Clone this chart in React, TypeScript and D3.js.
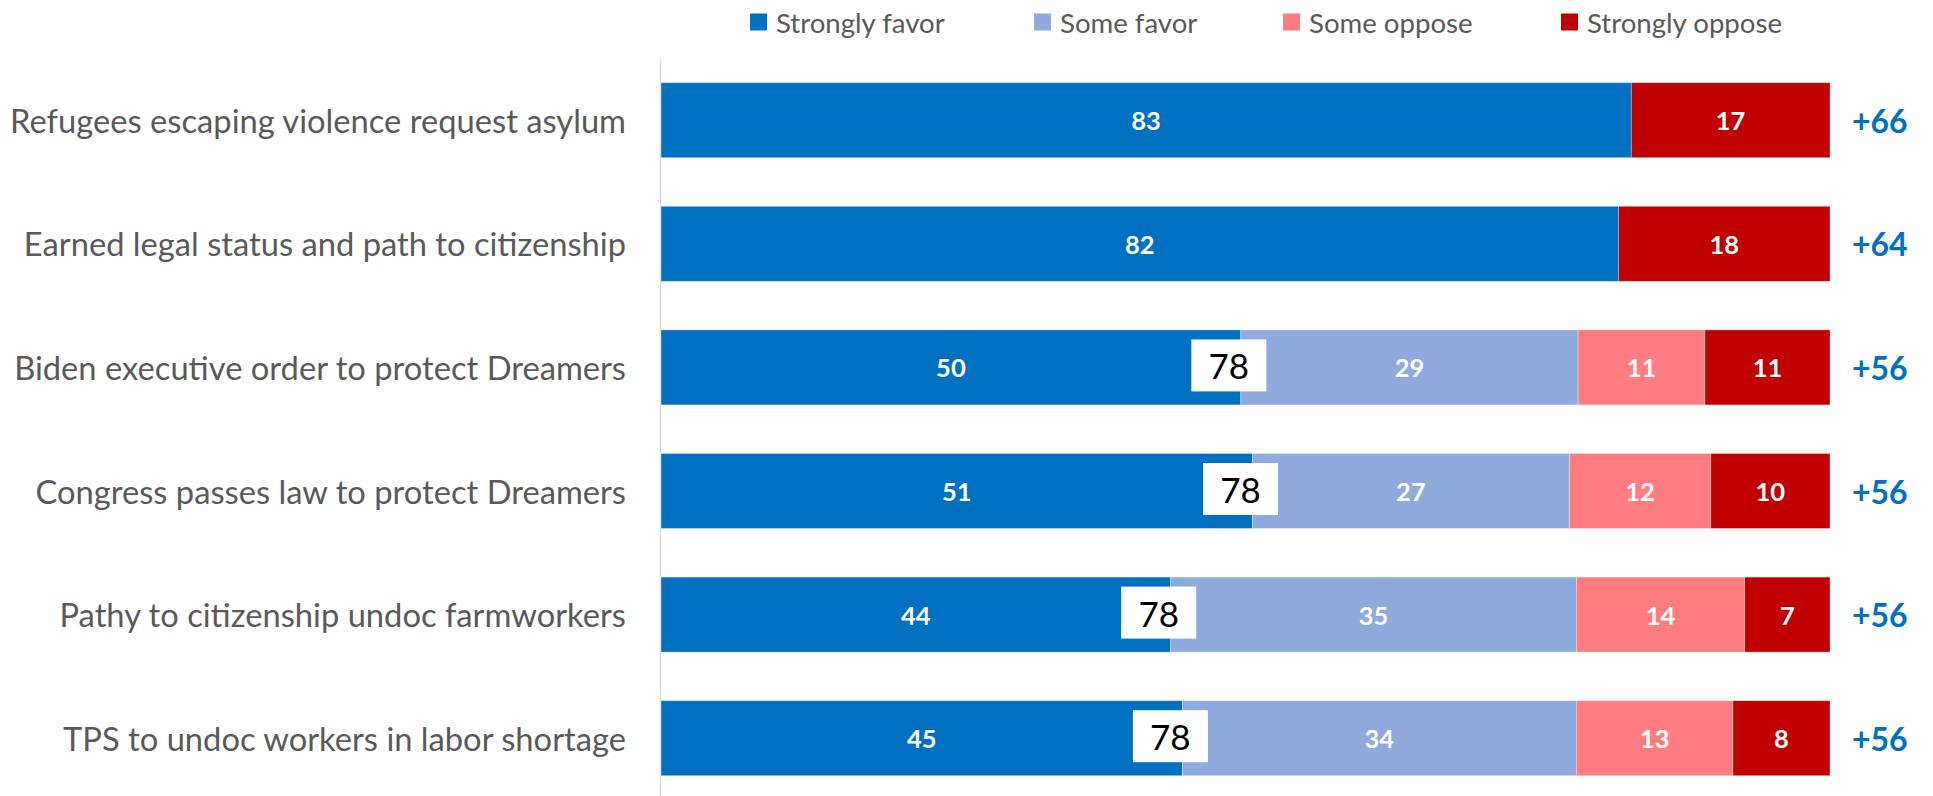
import React from "react";
import * as d3 from "d3";

const categories = [
  "Refugees escaping violence request asylum",
  "Earned legal status and path to citizenship",
  "Biden executive order to protect Dreamers",
  "Congress passes law to protect Dreamers",
  "Pathy to citizenship undoc farmworkers",
  "TPS to undoc workers in labor shortage",
];
const seriesNames = ["Strongly favor", "Some favor", "Some oppose", "Strongly oppose"];
// Shares (percent); labels show rounded values
const stronglyFavor = [83.0, 81.9, 49.6, 50.6, 43.6, 44.6];
const someFavor = [0, 0, 28.85, 27.1, 34.7, 33.7];
const someOppose = [0, 0, 10.85, 12.1, 14.4, 13.4];
const stronglyOppose = [17.0, 18.1, 10.7, 10.2, 7.3, 8.3];
const showTotalFavor = [false, false, true, true, true, true];
const netScore = [66, 64, 56, 56, 56, 56];

const COLORS = ["#0070C0", "#8FAADC", "#FF7C80", "#C00000"];
const FONT = "Lato, 'Open Sans', sans-serif";
const W = 1933;
const H = 796;
const LEGEND_X = [750, 1034, 1283, 1561];

type Row = { cat: string; [k: string]: number | string };

export default function App() {
  const rows: Row[] = categories.map((c, i) => ({
    cat: c,
    [seriesNames[0]]: stronglyFavor[i],
    [seriesNames[1]]: someFavor[i],
    [seriesNames[2]]: someOppose[i],
    [seriesNames[3]]: stronglyOppose[i],
  }));
  const stack = d3
    .stack<Row>()
    .keys(seriesNames)
    .value((d, k) => d[k] as number)
    .offset(d3.stackOffsetExpand);
  const layers = stack(rows);

  const x = d3.scaleLinear().domain([0, 1]).range([661, 1830]);
  const y = d3
    .scaleBand<string>()
    .domain(categories)
    .range([58.4, 800])
    .paddingInner(0.393)
    .paddingOuter(0.1965);
  const bw = y.bandwidth();

  return (
    <svg
      width={W}
      height={H}
      style={{ position: "absolute", left: 0, top: 0, background: "#fff" }}
      fontFamily={FONT}
    >
      {/* legend */}
      {seriesNames.map((s, i) => (
        <g key={s} transform={`translate(${LEGEND_X[i]},0)`}>
          <rect x={0} y={13.5} width={17} height={17} fill={COLORS[i]} />
          <text x={26} y={22} dominantBaseline="central" fontSize={27.6} fill="#595959">
            {s}
          </text>
        </g>
      ))}

      {/* axis line */}
      <line x1={660.5} x2={660.5} y1={59} y2={H} stroke="#d9d9d9" strokeWidth={1.3} />

      {/* category labels */}
      {categories.map((c) => (
        <text
          key={c}
          x={626}
          y={(y(c) as number) + bw / 2}
          textAnchor="end"
          dominantBaseline="central"
          fontSize={32.7}
          fill="#595959"
        >
          {c}
        </text>
      ))}

      {/* bars */}
      {layers.map((layer, li) => (
        <g key={layer.key}>
          {layer.map((seg, ri) => {
            const v = rows[ri][layer.key] as number;
            if (!v) return null;
            const x0 = x(seg[0]);
            const x1 = x(seg[1]);
            const yy = y(rows[ri].cat) as number;
            return (
              <g key={ri}>
                <rect
                  x={x0}
                  y={yy}
                  width={x1 - x0}
                  height={bw}
                  fill={COLORS[li]}
                  stroke="#ffffff"
                  strokeOpacity={0.45}
                  strokeWidth={0.75}
                />
                <text
                  x={(x0 + x1) / 2}
                  y={yy + bw / 2}
                  textAnchor="middle"
                  dominantBaseline="central"
                  fontSize={25.5}
                  fontWeight="bold"
                  fill="#ffffff"
                >
                  {Math.round(v)}
                </text>
              </g>
            );
          })}
        </g>
      ))}

      {/* total favor boxes */}
      {categories.map((c, i) => {
        if (!showTotalFavor[i]) return null;
        const t = Math.round(stronglyFavor[i] + someFavor[i]);
        const cx = x(layers[0][i][1]) - 12;
        const cy = (y(c) as number) + bw / 2 - 2;
        return (
          <g key={c}>
            <rect x={cx - 37.5} y={cy - 26} width={75} height={52} fill="#ffffff" />
            <text
              x={cx}
              y={cy}
              textAnchor="middle"
              dominantBaseline="central"
              fontSize={35}
              fill="#000000"
            >
              {t}
            </text>
          </g>
        );
      })}

      {/* net scores */}
      {categories.map((c, i) => (
        <text
          key={c}
          x={1852}
          y={(y(c) as number) + bw / 2}
          dominantBaseline="central"
          fontSize={32}
          fontWeight="bold"
          fill="#0070C0"
        >
          {`+${netScore[i]}`}
        </text>
      ))}
    </svg>
  );
}
